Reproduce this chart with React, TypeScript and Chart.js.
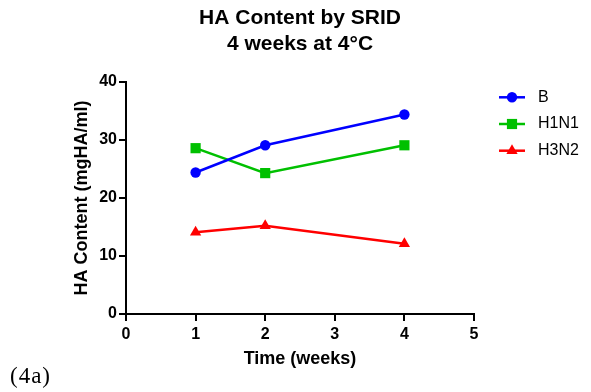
import React, { useEffect, useRef } from "react";
import { Chart, registerables } from "chart.js";

Chart.register(...registerables);

const weeks = [1, 2, 4];
const seriesNames = ["B", "H1N1", "H3N2"];
const bValues = [24.4, 29.1, 34.4];
const h1n1Values = [28.6, 24.3, 29.1];
const h3n2Values = [14.1, 15.2, 12.1];
const xTicks = [0, 1, 2, 3, 4, 5];
const yTicks = [0, 10, 20, 30, 40];
const titleLines = ["HA Content by SRID", "4 weeks at 4\u00B0C"];
const xTitle = "Time (weeks)";
const yTitle = "HA Content (mgHA/ml)";

const colors = ["#0000FF", "#00C000", "#FF0000"];
const pointStyles = ["circle", "rect", "triangle"];
const pointRadii = [5.2, 7.2, 6.5];

const FONT = "'Liberation Sans', Arial, Helvetica, sans-serif";

function drawMarker(ctx: CanvasRenderingContext2D, style: string, x: number, y: number, r: number) {
  ctx.beginPath();
  if (style === "circle") {
    ctx.arc(x, y, r, 0, Math.PI * 2);
  } else if (style === "rect") {
    const s = Math.SQRT1_2 * r;
    ctx.rect(x - s, y - s, 2 * s, 2 * s);
  } else {
    let rad = 0;
    ctx.moveTo(x + Math.sin(rad) * r, y - Math.cos(rad) * r);
    rad += (2 * Math.PI) / 3;
    ctx.lineTo(x + Math.sin(rad) * r, y - Math.cos(rad) * r);
    rad += (2 * Math.PI) / 3;
    ctx.lineTo(x + Math.sin(rad) * r, y - Math.cos(rad) * r);
    ctx.closePath();
  }
  ctx.fill();
}

const legendPlugin = {
  id: "sideLegend",
  afterDraw(chart: any) {
    const ctx: CanvasRenderingContext2D = chart.ctx;
    const lineStart = chart.chartArea.right + 25;
    const lineEnd = lineStart + 26;
    const textX = lineEnd + 13;
    const top = 97.3;
    const spacing = 26.7;
    ctx.save();
    chart.data.datasets.forEach((ds: any, i: number) => {
      const y = top + i * spacing;
      ctx.strokeStyle = ds.borderColor;
      ctx.fillStyle = ds.backgroundColor;
      ctx.lineWidth = 2.5;
      ctx.beginPath();
      ctx.moveTo(lineStart, y);
      ctx.lineTo(lineEnd, y);
      ctx.stroke();
      drawMarker(ctx, ds.pointStyle, (lineStart + lineEnd) / 2, y, ds.pointRadius);
      ctx.fillStyle = "#000";
      ctx.font = `16px ${FONT}`;
      ctx.textBaseline = "middle";
      ctx.textAlign = "left";
      ctx.fillText(ds.label, textX, y);
    });
    ctx.restore();
  },
};

export default function App() {
  const ref = useRef<HTMLCanvasElement | null>(null);

  useEffect(() => {
    if (!ref.current) return;
    const seriesValues = [bValues, h1n1Values, h3n2Values];
    const chart = new Chart(ref.current, {
      type: "line",
      data: {
        datasets: seriesNames.map((name, i) => ({
          label: name,
          data: weeks.map((w, j) => ({ x: w, y: seriesValues[i][j] })),
          borderColor: colors[i],
          backgroundColor: colors[i],
          pointBackgroundColor: colors[i],
          pointBorderColor: colors[i],
          pointBorderWidth: 0,
          pointStyle: pointStyles[i] as any,
          pointRadius: pointRadii[i],
          borderWidth: 2.5,
          tension: 0,
          fill: false,
        })),
      },
      plugins: [legendPlugin],
      options: {
        animation: false,
        responsive: false,
        maintainAspectRatio: false,
        layout: { padding: { left: 71, right: 117, top: 0, bottom: 0 } },
        plugins: {
          legend: { display: false },
          tooltip: { enabled: false },
          title: {
            display: true,
            fullSize: false,
            text: titleLines,
            color: "#000",
            font: { family: FONT, size: 21, weight: "bold", lineHeight: 1.24 },
            padding: { top: 5.5, bottom: 24.5 },
          },
        },
        scales: {
          x: {
            type: "linear",
            min: 0,
            max: 5,
            afterFit: (scale: any) => {
              scale.height = 78;
            },
            afterBuildTicks: (scale: any) => {
              scale.ticks = xTicks.map((v) => ({ value: v }));
            },
            ticks: {
              color: "#000",
              padding: 4,
              font: { family: FONT, size: 16, weight: "bold" },
            },
            grid: {
              display: true,
              drawOnChartArea: false,
              drawTicks: true,
              tickLength: 7,
              color: "#000",
              lineWidth: 2,
            },
            border: { display: true, color: "#000", width: 2 },
            title: {
              display: true,
              text: xTitle,
              color: "#000",
              font: { family: FONT, size: 18, weight: "bold", lineHeight: 1.2 },
              padding: { top: 0, bottom: 22.4 },
            },
          },
          y: {
            type: "linear",
            min: 0,
            max: 40,
            afterFit: (scale: any) => {
              scale.width = 55;
            },
            afterBuildTicks: (scale: any) => {
              scale.ticks = yTicks.map((v) => ({ value: v }));
            },
            ticks: {
              color: "#000",
              padding: 2,
              font: { family: FONT, size: 16, weight: "bold" },
            },
            grid: {
              display: true,
              drawOnChartArea: false,
              drawTicks: true,
              tickLength: 7,
              color: "#000",
              lineWidth: 2,
            },
            border: { display: true, color: "#000", width: 2 },
            title: {
              display: true,
              text: yTitle,
              color: "#000",
              font: { family: FONT, size: 18, weight: "bold", lineHeight: 1.2 },
              padding: { top: 0, bottom: 0 },
            },
          },
        },
      },
    });
    return () => chart.destroy();
  }, []);

  return (
    <div style={{ position: "fixed", left: 0, top: 0, width: 591, height: 392, background: "#fff" }}>
      <canvas ref={ref} width={591} height={392} style={{ display: "block", width: 591, height: 392 }} />
      <div
        style={{
          position: "absolute",
          left: 10,
          top: 364,
          fontFamily: "'Liberation Serif', 'Times New Roman', serif",
          fontSize: 23,
          lineHeight: "23px",
          letterSpacing: 1,
          color: "#000",
          whiteSpace: "nowrap",
        }}
      >
        (4a)
      </div>
    </div>
  );
}
